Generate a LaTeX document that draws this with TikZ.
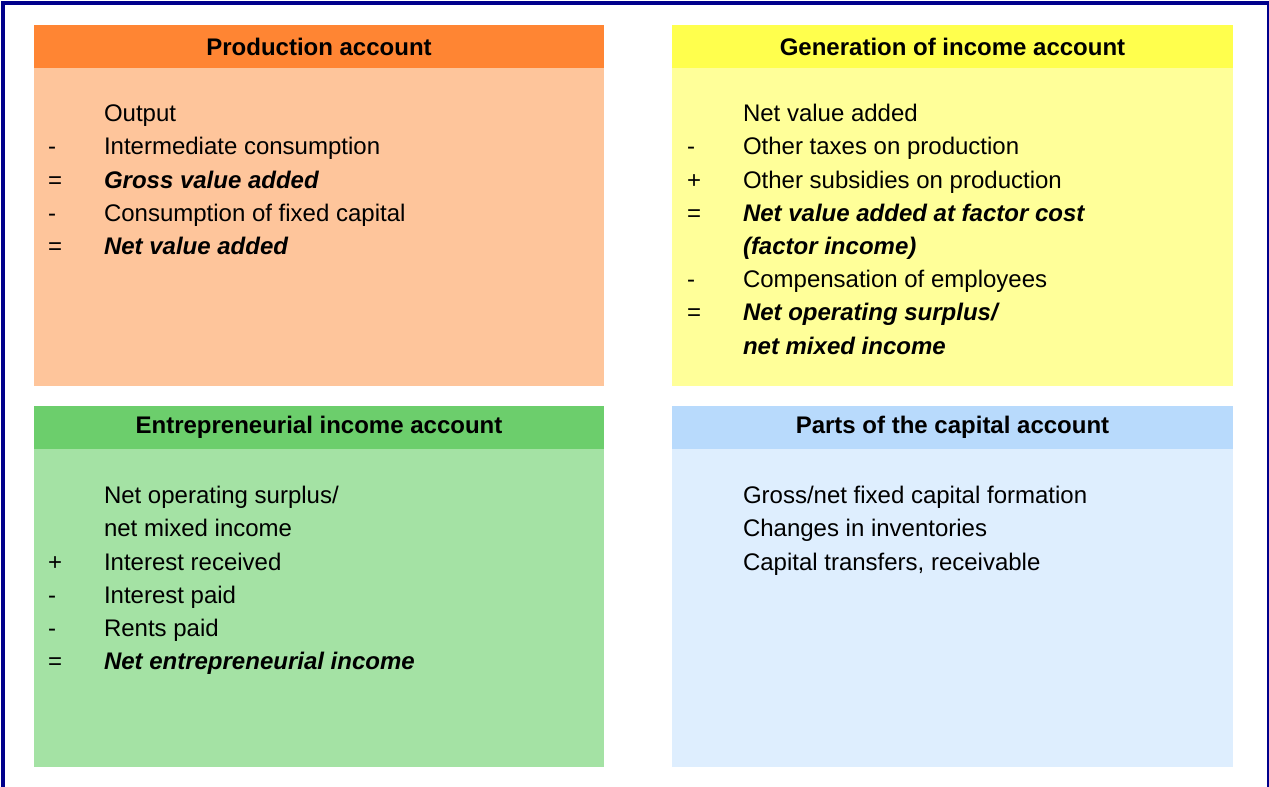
\documentclass[tikz,border=0pt]{standalone}
\usepackage{fontspec}
\setmainfont{Liberation Sans}
\usetikzlibrary{positioning}
\usepackage{xcolor}
\definecolor{frameblue}{RGB}{0,0,140}
\definecolor{prodhead}{RGB}{255,133,51}
\definecolor{prodbody}{RGB}{254,197,155}
\definecolor{genhead}{RGB}{255,255,77}
\definecolor{genbody}{RGB}{255,255,153}
\definecolor{enthead}{RGB}{108,206,108}
\definecolor{entbody}{RGB}{164,226,164}
\definecolor{caphead}{RGB}{184,218,252}
\definecolor{capbody}{RGB}{222,238,254}
\newcommand{\acctfont}{\fontsize{12}{14}\selectfont}

\begin{document}
\begin{tikzpicture} [x=0.5pt,y=-0.5pt,
  every node/.style={inner sep=0pt,outer sep=0pt},
  head/.style={minimum height=21.5pt,font=\acctfont\bfseries},
  body/.style={minimum height=159pt},
  wide/.style={minimum width=285pt},
  narrow/.style={minimum width=280.5pt},
  line/.style={anchor=north west,text height=12pt,text depth=4.6pt,font=\acctfont},
  total/.style={line,font=\acctfont\bfseries\itshape},
  sign/.style={anchor=base west,font=\acctfont}]

  \useasboundingbox (0,0) rectangle (1269,787);
  \clip (0,0) rectangle (1269,787);
  \draw[frameblue,line width=2.15pt] (3.2,800) -- (3.2,2.8) -- (1268.9,2.8) -- (1268.9,800);

  % account boxes
  \node[head,wide,fill=prodhead] (pah) at (319,46.5) {Production account};
  \node[body,wide,fill=prodbody] (pab) [below=0pt of pah] {};
  \node[head,narrow,fill=genhead] (gih) at (952.5,46.5) {Generation of income account};
  \node[body,narrow,fill=genbody] (gib) [below=0pt of gih] {};
  \node[head,wide,fill=enthead] (eih) at (319,427.5) {Entrepreneurial income account};
  \node[body,wide,fill=entbody] (eib) [below=0pt of eih] {};
  \node[head,narrow,fill=caphead] (cah) at (952.5,427.5) {Parts of the capital account};
  \node[body,narrow,fill=capbody] (cab) [below=0pt of cah] {};

  % production account
  \node[line] (pa1) at ([xshift=35pt,yshift=-14.8pt]pah.south west) {Output};
  \node[line] (pa2) at (pa1.south west) {Intermediate consumption};
  \node[total] (pa3) at (pa2.south west) {Gross value added};
  \node[line] (pa4) at (pa3.south west) {Consumption of fixed capital};
  \node[total] (pa5) at (pa4.south west) {Net value added};
  \node[sign] at ([xshift=-28pt]pa2.base west) {-};
  \node[sign] at ([xshift=-28pt]pa3.base west) {=};
  \node[sign] at ([xshift=-28pt]pa4.base west) {-};
  \node[sign] at ([xshift=-28pt]pa5.base west) {=};

  % generation of income account
  \node[line] (gi1) at ([xshift=35.5pt,yshift=-14.8pt]gih.south west) {Net value added};
  \node[line] (gi2) at (gi1.south west) {Other taxes on production};
  \node[line] (gi3) at (gi2.south west) {Other subsidies on production};
  \node[total] (gi4) at (gi3.south west) {Net value added at factor cost};
  \node[total] (gi5) at (gi4.south west) {(factor income)};
  \node[line] (gi6) at (gi5.south west) {Compensation of employees};
  \node[total] (gi7) at (gi6.south west) {Net operating surplus/};
  \node[total] (gi8) at (gi7.south west) {net mixed income};
  \node[sign] at ([xshift=-28pt]gi2.base west) {-};
  \node[sign] at ([xshift=-28pt]gi3.base west) {+};
  \node[sign] at ([xshift=-28pt]gi4.base west) {=};
  \node[sign] at ([xshift=-28pt]gi6.base west) {-};
  \node[sign] at ([xshift=-28pt]gi7.base west) {=};

  % entrepreneurial income account
  \node[line] (ei1) at ([xshift=35pt,yshift=-15.3pt]eih.south west) {Net operating surplus/};
  \node[line] (ei2) at (ei1.south west) {net mixed income};
  \node[line] (ei3) at (ei2.south west) {Interest received};
  \node[line] (ei4) at (ei3.south west) {Interest paid};
  \node[line] (ei5) at (ei4.south west) {Rents paid};
  \node[total] (ei6) at (ei5.south west) {Net entrepreneurial income};
  \node[sign] at ([xshift=-28pt]ei3.base west) {+};
  \node[sign] at ([xshift=-28pt]ei4.base west) {-};
  \node[sign] at ([xshift=-28pt]ei5.base west) {-};
  \node[sign] at ([xshift=-28pt]ei6.base west) {=};

  % parts of the capital account
  \node[line] (ca1) at ([xshift=35.5pt,yshift=-15.3pt]cah.south west) {Gross/net fixed capital formation};
  \node[line] (ca2) at (ca1.south west) {Changes in inventories};
  \node[line] (ca3) at (ca2.south west) {Capital transfers, receivable};

\end{tikzpicture}
\end{document}
